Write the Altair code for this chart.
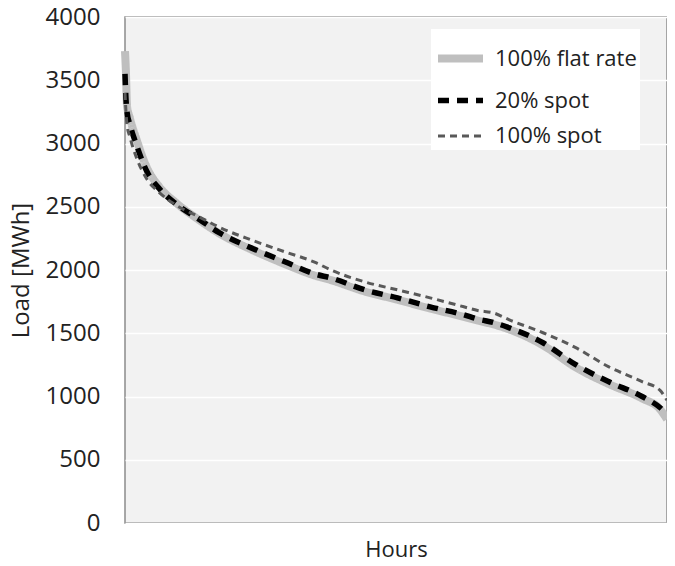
import altair as alt
import pandas as pd

# Hour positions (duration curve, 0..8760 h)
hours = [0, 16, 32, 80, 192, 352, 560, 833, 1201, 1521, 2049, 2594, 3074, 3330,
         3875, 4403, 4931, 5476, 5700, 5956, 6212, 6756, 7285, 7813, 8357, 8645, 8760]

flat_rate = [3730, 3550, 3300, 3200, 3024, 2811, 2654, 2528, 2394, 2290, 2160, 2045,
             1955, 1920, 1830, 1765, 1695, 1630, 1600, 1570, 1530, 1405, 1230, 1100,
             985, 900, 820]
spot_20 = [3550, 3350, 3250, 3150, 2980, 2780, 2640, 2520, 2400, 2295, 2173, 2063,
           1968, 1937, 1843, 1780, 1709, 1646, 1612, 1585, 1543, 1425, 1252, 1118,
           1000, 913, 860]
spot_100 = [3400, 3250, 3150, 3050, 2880, 2720, 2610, 2510, 2420, 2339, 2236, 2142,
            2060, 2000, 1906, 1843, 1780, 1709, 1680, 1661, 1606, 1504, 1386, 1236,
            1118, 1050, 970]

series_names = ["100% flat rate", "20% spot", "100% spot"]
series_colors = ["#bfbfbf", "#000000", "#595959"]
series_widths = [8, 3, 2.5]
series_dashes = [[1, 0], [11, 8], [7, 5]]

rows = []
for name, vals in zip(series_names, [flat_rate, spot_20, spot_100]):
    for h, v in zip(hours, vals):
        rows.append({"hour": h, "load": v, "series": name})
df = pd.DataFrame(rows)

FONT = "Open Sans"
LEG = dict(title=None, orient="none", legendX=306, legendY=12)

chart = alt.Chart(df).mark_line(interpolate="monotone").encode(
    x=alt.X("hour:Q", scale=alt.Scale(domain=[0, 8760], nice=False),
            axis=alt.Axis(title="Hours", labels=False, ticks=False, grid=False,
                          domain=False, titleFont=FONT, titleFontSize=22,
                          titleFontWeight="normal", titleColor="#222222",
                          titlePadding=16)),
    y=alt.Y("load:Q", scale=alt.Scale(domain=[0, 4000], nice=False),
            axis=alt.Axis(title="Load [MWh]", values=list(range(0, 4001, 500)),
                          format="d", ticks=False, domain=False,
                          gridColor="#ffffff", gridWidth=1.5,
                          labelFont=FONT, labelFontSize=24,
                          labelColor="#222222", labelPadding=25,
                          titleFont=FONT, titleFontSize=24,
                          titleFontWeight="normal", titleColor="#222222",
                          titlePadding=12)),
    color=alt.Color("series:N", sort=series_names,
                    scale=alt.Scale(domain=series_names, range=series_colors),
                    legend=alt.Legend(fillColor="#ffffff", padding=3,
                                      symbolType="stroke", symbolSize=2025,
                                      rowPadding=-13,
                                      labelFont=FONT, labelFontSize=22,
                                      labelColor="#222222", labelOffset=8,
                                      labelLimit=300,
                                      labelExpr="datum.label == '20% spot' ? '\u2003\u2009' + datum.label : datum.label",
                                      **LEG)),
    strokeWidth=alt.StrokeWidth("series:N", sort=series_names,
                                scale=alt.Scale(domain=series_names,
                                                range=series_widths),
                                legend=alt.Legend(**LEG)),
    strokeDash=alt.StrokeDash("series:N", sort=series_names,
                              scale=alt.Scale(domain=series_names,
                                              range=series_dashes),
                              legend=alt.Legend(**LEG)),
    order=alt.Order("hour:Q"),
).properties(
    width=542, height=506,
    autosize=alt.AutoSizeParams(type="none"),
    padding={"left": 117, "top": 9, "right": 0, "bottom": 35},
    background="#ffffff",
).configure_view(
    fill="#f2f2f2", stroke="#8c8c8c", strokeWidth=1.5
)

chart.save("out.html", embed_options={"renderer": "svg", "actions": False})
